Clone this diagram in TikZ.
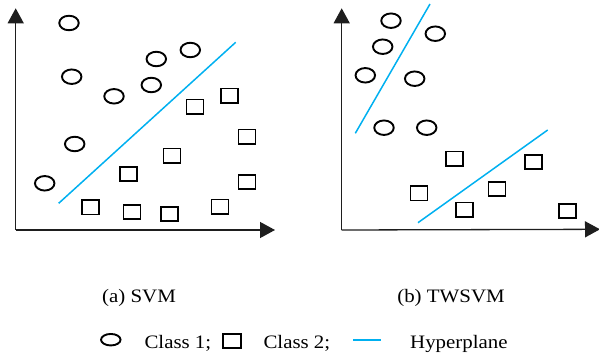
\documentclass[tikz,border=0pt]{standalone}
\usepackage{fontspec}
\setmainfont{Liberation Serif}[FakeStretch=1.1]
\usetikzlibrary{arrows.meta,shapes.geometric}
\definecolor{hyper}{RGB}{0,176,240}
\definecolor{axiscol}{RGB}{30,30,30}
\begin{document}
\begin{tikzpicture}[x=1pt,y=-1pt,
  cls1/.style={draw=black,line width=1.9pt,ellipse,inner sep=0pt,minimum width=19.5pt,minimum height=14.5pt},
  cls2/.style={draw=black,line width=1.8pt,rectangle,inner sep=0pt,minimum width=17pt,minimum height=14.5pt},
  axis/.style={draw=axiscol,line width=1.3pt,-{Triangle[length=15pt,width=16pt]}},
  plane/.style={draw=hyper,line width=1.5pt},
  lbl/.style={inner sep=0pt,font=\fontsize{19}{22}\selectfont}]
\useasboundingbox (0,0) rectangle (599,358);

% ---- (a) SVM ----
\coordinate (oa) at (15.7,230);
\coordinate (ya) at (15.7,8.3);
\coordinate (xa) at (275,230);
\draw[axis] (oa) -- (ya);
\draw[axis] (oa) -- (xa);

\node[cls1] (a1) at (69,23) {};
\node[cls1] (a2) at (71.7,76.7) {};
\node[cls1] (a3) at (156.3,59) {};
\node[cls1] (a4) at (190.3,50) {};
\node[cls1] (a5) at (114,96.3) {};
\node[cls1] (a6) at (151.3,85) {};
\node[cls1] (a7) at (74.7,144) {};
\node[cls1] (a8) at (44.7,183.3) {};

\node[cls2] (b1) at (195,106.7) {};
\node[cls2] (b2) at (229.3,95.7) {};
\node[cls2] (b3) at (247,136.7) {};
\node[cls2] (b4) at (172,155.7) {};
\node[cls2] (b5) at (128.3,174) {};
\node[cls2] (b6) at (247,182) {};
\node[cls2] (b7) at (90.7,207.3) {};
\node[cls2] (b8) at (132,212) {};
\node[cls2] (b9) at (169.7,214) {};
\node[cls2] (b10) at (220,206.7) {};

\coordinate (ha1) at (58.7,203.3);
\coordinate (ha2) at (235.7,42.3);
\draw[plane] (ha1) -- (ha2);

% ---- (b) TWSVM ----
\coordinate (ob) at (341.7,230);
\coordinate (yb) at (341.7,8.3);
\coordinate (xb) at (600,229.3);
\draw[axis] (ob) -- (yb);
\draw[axis] (ob) -- (xb);

\node[cls1] (c1) at (391,20.7) {};
\node[cls1] (c2) at (435.3,33.7) {};
\node[cls1] (c3) at (382.7,46.7) {};
\node[cls1] (c4) at (365.3,75.3) {};
\node[cls1] (c5) at (414.7,78.7) {};
\node[cls1] (c6) at (384,127.7) {};
\node[cls1] (c7) at (426.7,127.7) {};

\node[cls2] (d1) at (454.7,158.7) {};
\node[cls2] (d2) at (533.7,162) {};
\node[cls2] (d3) at (419,193.3) {};
\node[cls2] (d4) at (497,189) {};
\node[cls2] (d5) at (464.7,209.7) {};
\node[cls2] (d6) at (567.7,211) {};

\coordinate (hb1) at (355.3,133.3);
\coordinate (hb2) at (430,4);
\draw[plane] (hb1) -- (hb2);
\coordinate (hc1) at (418,222.7);
\coordinate (hc2) at (547.7,130);
\draw[plane] (hc1) -- (hc2);

% ---- captions ----
\node[lbl,anchor=base] (capa) at (139,302) {(a) SVM};
\node[lbl,anchor=base] (capb) at (451,302) {(b) TWSVM};

% ---- legend ----
\node[cls1,minimum width=19.5pt,minimum height=11.5pt] (k1) at (110.8,339.7) {};
\node[lbl,anchor=base west] (t1) at (144.3,348.5) {Class 1;};
\node[cls2,minimum width=18pt,minimum height=14.5pt] (k2) at (231.7,341) {};
\node[lbl,anchor=base west] (t2) at (263.3,348.5) {Class 2;};
\coordinate (k3a) at (353.3,340);
\coordinate (k3b) at (381,340);
\draw[plane] (k3a) -- (k3b);
\node[lbl,anchor=base west] (t3) at (410,348.5) {Hyperplane};
\end{tikzpicture}
\end{document}
